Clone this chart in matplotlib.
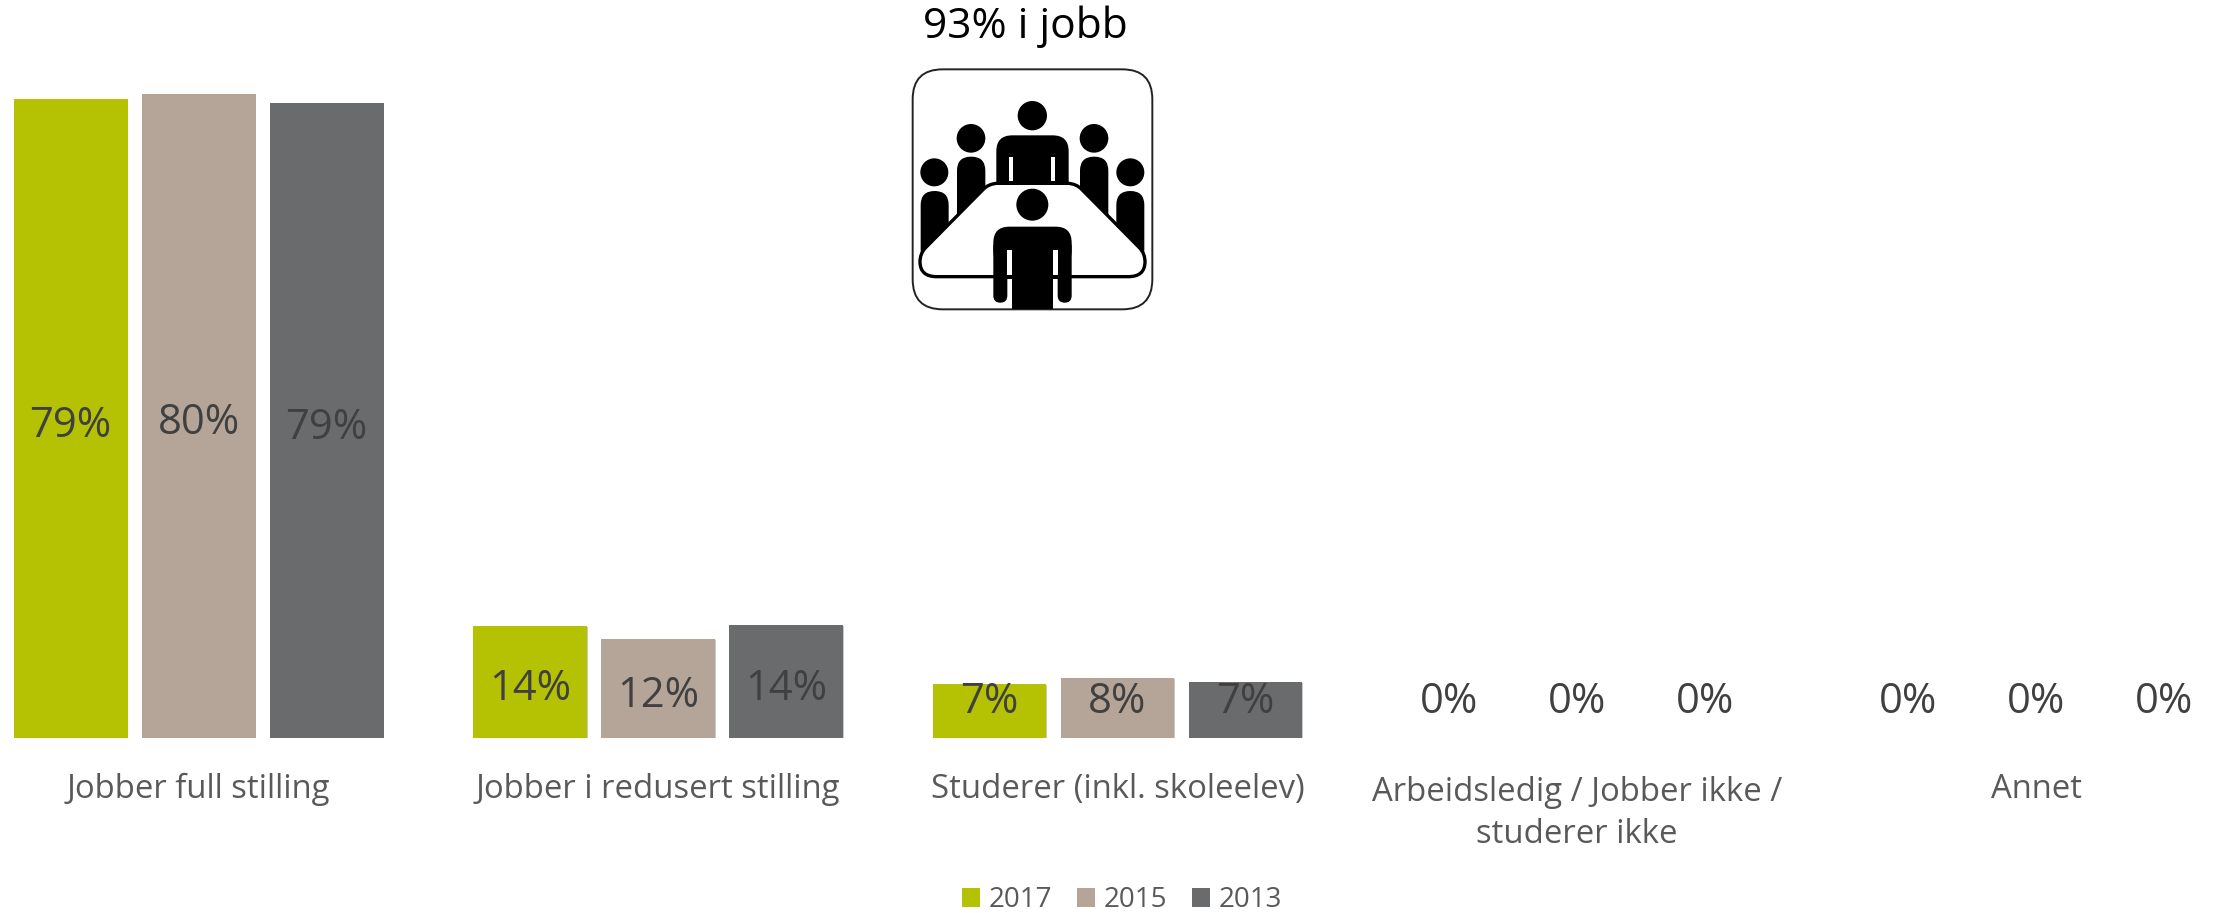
import matplotlib
matplotlib.use('Agg')
import matplotlib.pyplot as plt
import matplotlib.patheffects as pe
from matplotlib.patches import Circle, FancyBboxPatch, PathPatch, Rectangle
from matplotlib.path import Path

plt.rcParams['font.family'] = ['Open Sans', 'DejaVu Sans']

categories = ['Jobber full stilling', 'Jobber i redusert stilling', 'Studerer (inkl. skoleelev)',
              'Arbeidsledig / Jobber ikke /\nstuderer ikke', 'Annet']
years = ['2017', '2015', '2013']
values_2017 = [79, 13.9, 6.7, 0, 0]
values_2015 = [79.6, 12.2, 7.4, 0, 0]
values_2013 = [78.5, 14, 6.9, 0, 0]
labels_2017 = ['79%', '14%', '7%', '0%', '0%']
labels_2015 = ['80%', '12%', '8%', '0%', '0%']
labels_2013 = ['79%', '14%', '7%', '0%', '0%']
colors = ['#B5C204', '#B5A598', '#6A6B6D']

W, H = 2217, 913
fig = plt.figure(figsize=(W / 100, H / 100), dpi=100, facecolor='white')
ax = fig.add_axes([0, (H - 738) / H, 1, 738 / H])

series = [values_2017, values_2015, values_2013]
series_labels = [labels_2017, labels_2015, labels_2013]
shadow = [pe.SimplePatchShadow(offset=(0.5, -0.7), shadow_rgbFace='#888888', alpha=0.45), pe.Normal()]
handles = []
for i, vals in enumerate(series):
    xs = [k + (i - 1) * 0.2786 for k in range(len(categories))]
    bars = ax.bar(xs, vals, width=0.248, color=colors[i], label=years[i], zorder=2)
    handles.append(bars)
    for b, v in zip(bars, vals):
        if v > 0:
            b.set_path_effects(shadow)
    for x, v, lab in zip(xs, vals, series_labels[i]):
        ax.text(x, max(v / 2 - 0.9, 4.5), lab, ha='center', va='center', fontsize=30,
                color='#404040', zorder=3)

ax.set_xlim(-0.4325, 4.3933)
ax.set_ylim(0, 738 / 8.09)
ax.axis('off')

# category names sit below the axes
for k, name in enumerate(categories):
    two_lines = '\n' in name
    ax.annotate(name, (k, 0), xytext=(0, -27 if two_lines else -37), textcoords='offset points',
                ha='center', va='top' if two_lines else 'center', fontsize=23.7,
                color='#595959', linespacing=1.38, annotation_clip=False)

leg = fig.legend(handles=handles, labels=years, ncol=3, loc='center', frameon=False,
                 bbox_to_anchor=(1122 / W, (H - 900) / H), fontsize=20, labelcolor='#595959',
                 handlelength=0.66, handleheight=0.66, handletextpad=0.3, columnspacing=0.9)
for h in leg.legend_handles:
    h.set_path_effects([])

# icon and its heading, drawn in image pixels
ov = fig.add_axes([0, 0, 1, 1], facecolor='none')
ov.set_xlim(0, W)
ov.set_ylim(H, 0)
ov.axis('off')
ov.text(1025, 27, '93% i jobb', ha='center', va='center', fontsize=30.6, color='black')


def zx(v):
    return 880 + v / 3


def zy(v):
    return v / 3


def pill(x0, x1, y0, y1, r, color='black', z=4):
    ov.add_patch(FancyBboxPatch((zx(x0) + r, zy(y0) + r), (x1 - x0) / 3 - 2 * r, (y1 - y0) / 3 - 2 * r,
                                boxstyle='round,pad=%f,rounding_size=%f' % (r, r),
                                fc=color, ec='none', zorder=z))


def head(x, y, r, z=4):
    ov.add_patch(Circle((zx(x), zy(y)), r / 3, fc='black', ec='none', zorder=z))


ov.add_patch(FancyBboxPatch((zx(98) + 30, zy(208) + 30), 719 / 3 - 60, 720 / 3 - 60,
                            boxstyle='round,pad=30,rounding_size=30', fc='white', ec='#222222',
                            lw=1.4, zorder=3))
head(457, 347, 44)
head(273, 415, 43)
head(642, 415, 43)
head(163, 517, 42)
head(751, 517, 42)
pill(231, 316, 470, 700, 14)
pill(600, 685, 470, 700, 14)
pill(122, 206, 573, 790, 14)
pill(709, 793, 573, 790, 14)
pill(349, 566, 406, 600, 16)
for gx in (388, 514):
    ov.add_patch(Rectangle((zx(gx), zy(472)), 12 / 3, 70 / 3, fc='white', ec='none', zorder=4.5))

tbl = [(Path.MOVETO, (350, 550)), (Path.LINETO, (565, 550)), (Path.CURVE3, (590, 552)), (Path.CURVE3, (605, 568)),
       (Path.LINETO, (780, 745)), (Path.CURVE3, (795, 762)), (Path.CURVE3, (795, 785)),
       (Path.CURVE3, (795, 830)), (Path.CURVE3, (745, 830)), (Path.LINETO, (170, 830)),
       (Path.CURVE3, (120, 830)), (Path.CURVE3, (120, 785)), (Path.CURVE3, (120, 762)), (Path.CURVE3, (135, 745)),
       (Path.LINETO, (310, 568)), (Path.CURVE3, (325, 552)), (Path.CURVE3, (350, 550)), (Path.CLOSEPOLY, (350, 550))]
ov.add_patch(PathPatch(Path([(zx(p[0]), zy(p[1])) for _, p in tbl], [c for c, _ in tbl]),
                       fc='white', ec='black', lw=2.4, zorder=5))

head(457, 614, 48, z=6)
pill(340, 575, 680, 800, 16, z=6)
pill(340, 382, 720, 908, 7, z=6)
pill(533, 575, 720, 908, 7, z=6)
ov.add_patch(Rectangle((zx(395), zy(720)), 125 / 3, 208 / 3, fc='black', ec='none', zorder=6))
for gx in (382, 520):
    ov.add_patch(Rectangle((zx(gx), zy(750)), 13 / 3, 75 / 3, fc='white', ec='none', zorder=6.5))
    ov.add_patch(Rectangle((zx(gx), zy(825)), 13 / 3, 12 / 3, fc='black', ec='none', zorder=6.5))

fig.savefig('out.png', dpi=100, facecolor='white')
